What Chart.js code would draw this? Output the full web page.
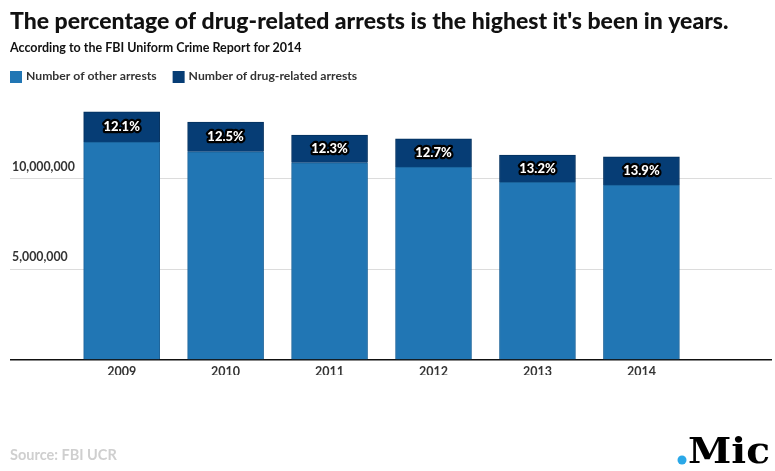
<!DOCTYPE html>
<html>
<head>
<meta charset="utf-8">
<script src="https://cdn.jsdelivr.net/npm/chart.js@4/dist/chart.umd.min.js"></script>
<style>
  html, body { margin: 0; padding: 0; background: #fff; }
  #wrap { width: 775px; height: 471px; }
</style>
</head>
<body>
<div id="wrap"><canvas id="arrestsChart" width="775" height="471"></canvas></div>
<script>
// x axis labels
const years = ['2009', '2010', '2011', '2012', '2013', '2014'];
// arrests for everything other than drug offenses
const otherArrests = [12020000, 11480000, 10880000, 10640000, 9800000, 9640000];
// drug-related arrests
const drugArrests = [1660000, 1640000, 1530000, 1550000, 1500000, 1560000];
// share printed on each drug segment
const drugShare = ['12.1%', '12.5%', '12.3%', '12.7%', '13.2%', '13.9%'];

const FONT = "Lato, 'Open Sans', sans-serif";
const OTHER_COLOR = '#2176b4';
const DRUG_COLOR = '#063d75';

Chart.defaults.font.family = FONT;
Chart.defaults.color = '#333';

// header, legend, source line and logo
const decorPlugin = {
    id: 'decor',
    afterDraw: function (chart) {
        const ctx = chart.ctx;
        ctx.save();
        ctx.textBaseline = 'middle';
        ctx.textAlign = 'left';

        ctx.fillStyle = '#111';
        ctx.font = '900 23px ' + FONT;
        ctx.fillText("The percentage of drug-related arrests is the highest it's been in years.", 10, 22);

        ctx.font = 'bold 12.5px ' + FONT;
        ctx.fillText('According to the FBI Uniform Crime Report for 2014', 10, 48);

        // legend
        let x = 10;
        chart.data.datasets.forEach(function (ds) {
            ctx.fillStyle = ds.backgroundColor;
            ctx.fillRect(x, 71, 12, 12);
            ctx.fillStyle = '#333';
            ctx.font = 'bold 12.2px ' + FONT;
            ctx.fillText(ds.label, x + 16, 76);
            x += 16 + ctx.measureText(ds.label).width + 16;
        });

        ctx.fillStyle = '#cfcfcf';
        ctx.font = 'bold 14.5px ' + FONT;
        ctx.fillText('Source: FBI UCR', 10, 455);

        // logo
        ctx.fillStyle = '#2aa8e8';
        ctx.beginPath();
        ctx.arc(682, 460, 4.5, 0, Math.PI * 2);
        ctx.fill();
        ctx.fillStyle = '#000';
        ctx.font = 'bold 35px "DejaVu Serif", serif';
        ctx.textBaseline = 'alphabetic';
        const w = ctx.measureText('Mic').width;
        ctx.translate(688, 463);
        ctx.scale(82 / w, 1);
        ctx.fillText('Mic', 0, 0);
        ctx.restore();
    }
};

// outlined percentage in the middle of each drug segment
const shareLabels = {
    id: 'shareLabels',
    afterDatasetsDraw: function (chart) {
        const ctx = chart.ctx;
        const meta = chart.getDatasetMeta(1);
        ctx.save();
        ctx.font = '900 13px ' + FONT;
        ctx.textAlign = 'center';
        ctx.textBaseline = 'middle';
        ctx.lineJoin = 'round';
        ctx.lineWidth = 4.5;
        ctx.strokeStyle = '#000';
        ctx.fillStyle = '#fff';
        meta.data.forEach(function (bar, i) {
            const p = bar.getProps(['x', 'y', 'base'], true);
            const cy = (p.y + p.base) / 2;
            ctx.strokeText(drugShare[i], p.x, cy);
            ctx.fillText(drugShare[i], p.x, cy);
        });
        ctx.restore();
    }
};

const ctx = document.getElementById('arrestsChart').getContext('2d');
new Chart(ctx, {
    type: 'bar',
    data: {
        datasets: [{
            label: 'Number of other arrests',
            data: otherArrests.map(function (v, i) { return { x: i + 1, y: v }; }),
            backgroundColor: OTHER_COLOR,
            borderColor: '#1a6299',
            borderWidth: 1,
            barThickness: 76
        }, {
            label: 'Number of drug-related arrests',
            data: drugArrests.map(function (v, i) { return { x: i + 1, y: v }; }),
            backgroundColor: DRUG_COLOR,
            borderColor: '#03305e',
            borderWidth: 1,
            barThickness: 76
        }]
    },
    options: {
        responsive: false,
        animation: false,
        layout: { padding: { left: 6, right: 3, top: 88, bottom: 96 } },
        plugins: {
            legend: { display: false },
            tooltip: { enabled: false }
        },
        scales: {
            x: {
                type: 'linear',
                stacked: true,
                min: -0.074,
                max: 7.256,
                offset: false,
                grid: { display: false },
                border: { display: false },
                ticks: {
                    stepSize: 1,
                    autoSkip: false,
                    maxRotation: 0,
                    padding: -4,
                    color: '#333',
                    font: { size: 12.5, weight: 'bold' },
                    callback: function (v) {
                        const r = Math.round(v);
                        return Math.abs(v - r) < 1e-6 && years[r - 1] ? years[r - 1] : '';
                    }
                }
            },
            y: {
                stacked: true,
                min: 0,
                max: 15000000,
                grid: {
                    drawTicks: false,
                    color: function (c) {
                        if (c.tick.value === 0) return '#111';
                        return c.tick.value >= 15000000 ? 'rgba(0,0,0,0)' : '#dcdcdc';
                    },
                    lineWidth: function (c) { return c.tick.value === 0 ? 1.5 : 1; }
                },
                border: { display: false },
                ticks: {
                    stepSize: 5000000,
                    mirror: true,
                    padding: 2,
                    labelOffset: -12,
                    color: '#333',
                    font: { size: 12.3, weight: 'bold' },
                    callback: function (v) {
                        return (v === 0 || v >= 15000000) ? '' : v.toLocaleString('en-US');
                    }
                }
            }
        }
    },
    plugins: [decorPlugin, shareLabels]
});
</script>
</body>
</html>
